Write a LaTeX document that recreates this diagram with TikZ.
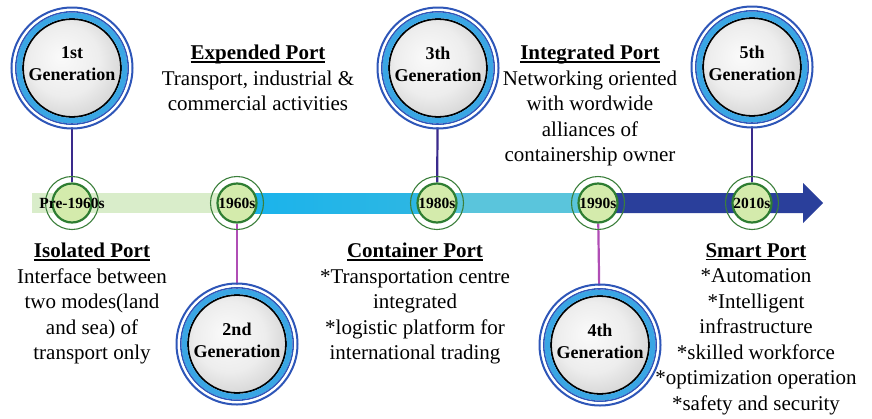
\documentclass[tikz,border=0pt]{standalone}
\usepackage{fontspec}
\setmainfont{Liberation Serif}
\usetikzlibrary{backgrounds}
\definecolor{ringblue}{HTML}{2E56B8}
\definecolor{ringcyan}{HTML}{3AA6E4}
\definecolor{bandgreen}{HTML}{D9EDCA}
\definecolor{bandcyanA}{HTML}{1AB3EC}
\definecolor{bandcyanB}{HTML}{2FB7E2}
\definecolor{bandcyanC}{HTML}{5AC5DC}
\definecolor{banddark}{HTML}{2A3F9B}
\definecolor{conntop}{HTML}{3A2A8C}
\definecolor{connbot}{HTML}{B04DB5}
\definecolor{yrfill}{HTML}{D4EBAC}
\definecolor{yrline}{HTML}{2E7D32}
\definecolor{yrring}{HTML}{3B7F3B}
\definecolor{shA}{HTML}{FAFAFA}
\definecolor{shB}{HTML}{EDEDED}
\definecolor{shC}{HTML}{D4D4D4}
\definecolor{shD}{HTML}{C4C4C4}
\pgfdeclareradialshading{genball}{\pgfpoint{-6bp}{6bp}}{color(0bp)=(shA); color(18bp)=(shB); color(30bp)=(shC); color(50bp)=(shD)}
\newcommand\myul[1]{\setbox0\hbox{#1}\rlap{\rule[-3pt]{\wd0}{1.3pt}}\box0}
\newcommand\genrings[1]{%
  \draw[ringcyan, line width=5.6pt] (#1.center) circle[radius=52.7pt];
  \draw[ringblue, line width=1.6pt] (#1.center) circle[radius=56.3pt];
  \draw[white, line width=2.4pt] (#1.center) circle[radius=58.3pt];
  \draw[ringblue, line width=2pt] (#1.center) circle[radius=60.5pt];}
\begin{document}
\begin{tikzpicture}[x=1pt,y=-1pt,
  gen/.style={circle, minimum size=98pt, inner sep=0pt, draw=black, line width=1.8pt, shading=genball},
  gentext/.style={align=center, inner sep=0pt, font=\fontsize{18}{22}\selectfont\bfseries},
  yr/.style={circle, minimum size=39pt, inner sep=0pt, draw=yrline, line width=2.2pt, fill=yrfill},
  yrtext/.style={inner sep=0pt, font=\fontsize{15.5}{18}\selectfont\bfseries},
  txt/.style={anchor=north, align=center, inner sep=0pt, font=\fontsize{21}{25.5}\selectfont},
  conna/.style={draw=conntop, line width=2.2pt},
  connb/.style={draw=connbot, line width=2.2pt}]
\useasboundingbox (0,0) rectangle (872,418);
% year circles
\node[yr] (y1) at (72,203) {};
\node[yr] (y2) at (237,203) {};
\node[yr] (y3) at (437,203) {};
\node[yr] (y4) at (598,203) {};
\node[yr] (y5) at (752,203) {};
\foreach \n in {y1,y2,y3,y4,y5}{\draw[yrring, line width=1.1pt] (\n.center) circle[radius=26.5pt];}
\node[yrtext] (l1) at (y1) {Pre-1960s};
\node[yrtext] (l2) at (y2) {1960s};
\node[yrtext] (l3) at (y3) {1980s};
\node[yrtext] (l4) at (y4) {1990s};
\node[yrtext] (l5) at (y5) {2010s};
% generation circles
\node[gen] (g1) at (72,68) {};
\node[gen] (g2) at (237,344) {};
\node[gen] (g3) at (438,68) {};
\node[gen] (g4) at (600,345) {};
\node[gen] (g5) at (752,67) {};
\foreach \n in {g1,g2,g3,g4,g5}{\genrings{\n}}
\node[gentext] (n1) at ([yshift=4pt]g1.center) {1st\\Generation};
\node[gentext] (n2) at ([yshift=4pt]g2.center) {2nd\\Generation};
\node[gentext] (n3) at ([yshift=4pt]g3.center) {3th\\Generation};
\node[gentext] (n4) at ([yshift=4pt]g4.center) {4th\\Generation};
\node[gentext] (n5) at ([yshift=4pt]g5.center) {5th\\Generation};
% texts
\node[txt] (t1) at (258,45) {\myul{\textbf{Expended Port}}\\Transport, industrial \&\\commercial activities};
\node[txt] (t2) at (590,45) {\myul{\textbf{Integrated Port}}\\Networking oriented\\with wordwide\\alliances of\\containership owner};
\node[txt] (t3) at (92,243) {\myul{\textbf{Isolated Port}}\\Interface between\\two modes(land\\and sea) of\\transport only};
\node[txt] (t4) at (415,243) {\myul{\textbf{Container Port}}\\*Transportation centre\\integrated\\*logistic platform for\\international trading};
\node[txt] (t5) at (756,243) {\myul{\textbf{Smart Port}}\\*Automation\\*Intelligent\\infrastructure\\*skilled workforce\\*optimization operation\\*safety and security};
% band and connectors
\begin{scope}[on background layer]
  \fill[bandgreen] (32,193) rectangle (245,213);
  \shade[left color=bandcyanA, right color=bandcyanB] (245,193) rectangle (437,213);
  \fill[bandcyanC] (437,193) rectangle (612,213);
  \fill[banddark] (612,193) -- (803,193) -- (803,183) -- (823,203) -- (803,223) -- (803,213) -- (612,213) -- cycle;
  \draw[conna] (g1) -- (y1);
  \draw[conna] (g3) -- (y3);
  \draw[conna] (g5) -- (y5);
  \draw[connb] (g2) -- (y2);
  \draw[connb] (g4) -- (y4);
\end{scope}
\end{tikzpicture}
\end{document}
